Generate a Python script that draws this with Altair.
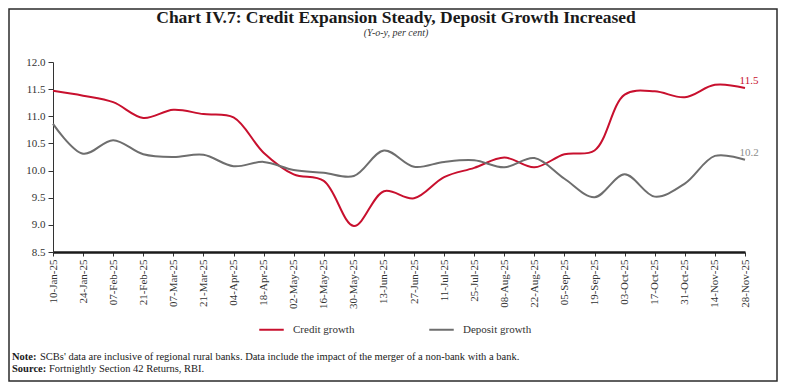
import altair as alt
import pandas as pd

dates = ["10-Jan-25", "24-Jan-25", "07-Feb-25", "21-Feb-25", "07-Mar-25", "21-Mar-25",
         "04-Apr-25", "18-Apr-25", "02-May-25", "16-May-25", "30-May-25", "13-Jun-25",
         "27-Jun-25", "11-Jul-25", "25-Jul-25", "08-Aug-25", "22-Aug-25", "05-Sep-25",
         "19-Sep-25", "03-Oct-25", "17-Oct-25", "31-Oct-25", "14-Nov-25", "28-Nov-25"]
credit = [11.47, 11.38, 11.26, 10.97, 11.12, 11.04, 10.98, 10.33, 9.93, 9.81, 8.98, 9.62,
          9.49, 9.88, 10.05, 10.24, 10.06, 10.30, 10.37, 11.40, 11.46, 11.35, 11.58, 11.52]
deposit = [10.86, 10.31, 10.56, 10.30, 10.25, 10.29, 10.08, 10.16, 10.01, 9.96, 9.90, 10.37,
           10.07, 10.16, 10.19, 10.06, 10.23, 9.85, 9.51, 9.93, 9.52, 9.76, 10.27, 10.20]
series_names = ["Credit growth", "Deposit growth"]
series_colors = ["#C8102E", "#6E6E6E"]
label_colors = ["#C8102E", "#8C8C8C"]
y_ticks = [8.5, 9.0, 9.5, 10.0, 10.5, 11.0, 11.5, 12.0]

title_text = "Chart IV.7: Credit Expansion Steady, Deposit Growth Increased"
subtitle_text = "(Y-o-y, per cent)"
note_head = "Note:"
note_body = "SCBs' data are inclusive of regional rural banks. Data include the impact of the merger of a non-bank with a bank."
source_head = "Source:"
source_body = "Fortnightly Section 42 Returns, RBI."

FONT = "Liberation Serif"

rows = []
for d, c, p in zip(dates, credit, deposit):
    rows.append({"date": d, "series": series_names[0], "value": c})
    rows.append({"date": d, "series": series_names[1], "value": p})
df = pd.DataFrame(rows)

last = pd.DataFrame({
    "date": [dates[-1], dates[-1]],
    "series": series_names,
    "value": [credit[-1], deposit[-1]],
    "label": [f"{credit[-1]:.1f}", f"{deposit[-1]:.1f}"],
})

x_axis = alt.Axis(labelAngle=270, labelFont=FONT, labelFontSize=11,
                  labelColor="#333333", domainColor="#1a1a1a", domainWidth=2.5,
                  tickColor="#333333", tickSize=4, labelPadding=3, labelOverlap=False)
y_axis = alt.Axis(values=y_ticks, format=".1f", grid=False, labelFont=FONT,
                  labelFontSize=11, labelColor="#333333", domainColor="#333333",
                  tickColor="#333333", tickSize=5, labelPadding=3, labelOverlap=False)
x_scale = alt.Scale(type="point", padding=0)
y_scale = alt.Scale(domain=[8.5, 12.0], nice=False, zero=False)

color_enc = alt.Color("series:N", sort=series_names,
                      scale=alt.Scale(domain=series_names, range=series_colors),
                      legend=alt.Legend(title=None, orient="none", direction="horizontal",
                                        legendX=205, legendY=254, symbolType="stroke",
                                        symbolSize=600, symbolStrokeWidth=2,
                                        labelFont=FONT, labelFontSize=11, labelColor="#333333",
                                        columnPadding=70, labelOffset=8))

lines = alt.Chart(df).mark_line(interpolate="catmull-rom", strokeWidth=2).encode(
    x=alt.X("date:N", sort=dates, title=None, scale=x_scale, axis=x_axis),
    y=alt.Y("value:Q", title=None, scale=y_scale, axis=y_axis),
    color=color_enc)

end_labels = alt.Chart(last).mark_text(font=FONT, fontSize=11, align="center",
                                       baseline="middle", dx=4, dy=-7).encode(
    x=alt.X("date:N", sort=dates, title=None, scale=x_scale, axis=x_axis),
    y=alt.Y("value:Q", title=None, scale=y_scale, axis=y_axis),
    text="label:N",
    color=alt.Color("series:N", scale=alt.Scale(domain=series_names, range=label_colors),
                    legend=None),
)

one = pd.DataFrame({"k": [0]})

frame = alt.Chart(one).mark_rect(fillOpacity=0, stroke="#2b2b2b", strokeWidth=1.5).encode(
    x=alt.value(-44), x2=alt.value(724), y=alt.value(-53), y2=alt.value(319))


def txt(s, x, y, size, weight="normal", style="normal", align="left", color="#1a1a1a"):
    return alt.Chart(pd.DataFrame({"t": [s]})).mark_text(
        font=FONT, fontSize=size, fontWeight=weight, fontStyle=style, align=align,
        baseline="middle", color=color).encode(x=alt.value(x), y=alt.value(y), text="t:N")


title = txt(title_text, 343, -44, 17.5, weight="bold", align="center")
subtitle = txt(subtitle_text, 343, -29, 10, style="italic", align="center", color="#333333")
n1 = txt(note_head, -41, 295, 10.5, weight="bold")
n2 = txt(note_body, -13, 295, 10.5)
s1 = txt(source_head, -41, 307, 10.5, weight="bold")
s2 = txt(source_body, -4, 307, 10.5)

chart = alt.layer(frame, lines, end_labels, title, subtitle, n1, n2, s1, s2).resolve_scale(
    color="independent"
).properties(
    width=692, height=190,
    autosize=alt.AutoSizeParams(type="none"),
    padding={"left": 45, "top": 54, "right": 33, "bottom": 131},
).configure_view(stroke=None)

chart.save("out.html", embed_options={"renderer": "svg", "actions": False})
